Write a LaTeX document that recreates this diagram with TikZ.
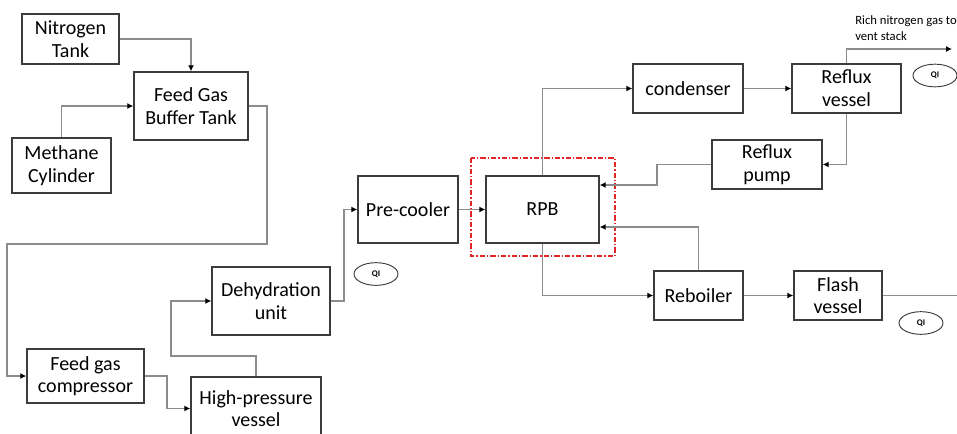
\documentclass[tikz,border=0pt]{standalone}
\usepackage{fontspec}
\setmainfont{Carlito}
\usetikzlibrary{arrows.meta,shapes.geometric}
\definecolor{linegray}{RGB}{140,140,140}
\definecolor{boxgray}{RGB}{60,60,60}
\definecolor{rpbred}{RGB}{225,40,40}
\tikzset{
  blk/.style={draw=boxgray,line width=1.1pt,inner sep=0pt,align=center,font=\fontsize{15}{17}\selectfont},
  arr/.style={draw=linegray,line width=0.8pt,-{Latex[length=4.5pt,width=4.5pt,color=black]}},
  ln/.style={draw=linegray,line width=0.8pt},
  qi/.style={draw=boxgray,line width=0.7pt,ellipse,inner sep=0pt,minimum width=33pt,minimum height=17pt,font=\fontsize{6.5}{7}\selectfont\bfseries},
}
\begin{document}
\begin{tikzpicture}[x=0.75pt,y=-0.75pt]
\useasboundingbox (0,0) rectangle (957,433);
\begin{scope}
\clip (0,0) rectangle (957,433);
% boxes
\node[blk,minimum width=72.75pt,minimum height=37.5pt] (N) at (70.5,39) {Nitrogen\\Tank};
\node[blk,minimum width=85.5pt,minimum height=51pt] (B) at (191,106) {Feed Gas\\Buffer Tank};
\node[blk,minimum width=74.25pt,minimum height=41.25pt] (M) at (61.5,165.5) {Methane\\Cylinder};
\node[blk,minimum width=87.75pt,minimum height=40.5pt] (C) at (85.5,376) {Feed gas\\compressor};
\node[blk,minimum width=97.5pt,minimum height=47.25pt] (H) at (256,408.5) {High-pressure\\vessel};
\node[blk,minimum width=88.5pt,minimum height=51pt] (D) at (271,301) {Dehydration\\unit};
\node[blk,minimum width=75pt,minimum height=50.25pt] (P) at (408,209.5) {Pre-cooler};
\node[blk,minimum width=84.75pt,minimum height=50.25pt] (R) at (542.5,209.5) {RPB};
\node[blk,minimum width=82.5pt,minimum height=36.75pt] (Cd) at (688,88.5) {condenser};
\node[blk,minimum width=81.75pt,minimum height=36.75pt] (RV) at (846.5,88.5) {Reflux\\vessel};
\node[blk,minimum width=82.5pt,minimum height=36.75pt] (RP) at (767,164.5) {Reflux\\pump};
\node[blk,minimum width=66.75pt,minimum height=36.75pt] (Rb) at (698.5,295.5) {Reboiler};
\node[blk,minimum width=66pt,minimum height=36.75pt] (F) at (838,295.5) {Flash\\vessel};
% red dash-dot frame
\draw[rpbred,line width=0.9pt,dash pattern=on 4pt off 1.5pt on 1pt off 1.5pt] (471,158) rectangle (615,256);
% QI markers
\node[qi] (q1) at (376,274) {QI};
\node[qi] (q2) at (935,75.5) {QI};
\node[qi] (q3) at (921,323) {QI};
% label
\node[anchor=north west,inner sep=0pt,align=left,font=\fontsize{9.5}{12}\selectfont] (lbl) at (855,15) {Rich nitrogen gas to\\vent stack};
% coordinates
\coordinate (vent) at (952,49);
\coordinate (out) at (957,295.5);
\path (R.east) ++(0,-24.5) coordinate (rin1);
\path (R.east) ++(0,17.5) coordinate (rin2);
% connectors
\draw[arr] (N.east) -| (B.north);
\draw[arr] (M.north) |- (B.west);
\draw[arr] (B.east) -- (267,106) -- (267,244) -- (7,244) |- (C.west);
\draw[arr] (C.east) -- (167,376) |- (H.west);
\draw[arr] (H.north) -- (256,356) -- (171,356) |- (D.west);
\draw[arr] (D.east) -- (344,301) |- (P.west);
\draw[arr] (P.east) -- (R.west);
\draw[arr] (R.north) |- (Cd.west);
\draw[arr] (Cd.east) -- (RV.west);
\draw[arr] (RV.north) |- (vent);
\draw[arr] (RV.south) |- (RP.east);
\draw[arr] (RP.west) -- (657,164.5) |- (rin1);
\draw[arr] (Rb.north) |- (rin2);
\draw[arr] (R.south) |- (Rb.west);
\draw[arr] (Rb.east) -- (F.west);
\draw[ln] (F.east) -- (out);
\end{scope}
\end{tikzpicture}
\end{document}
